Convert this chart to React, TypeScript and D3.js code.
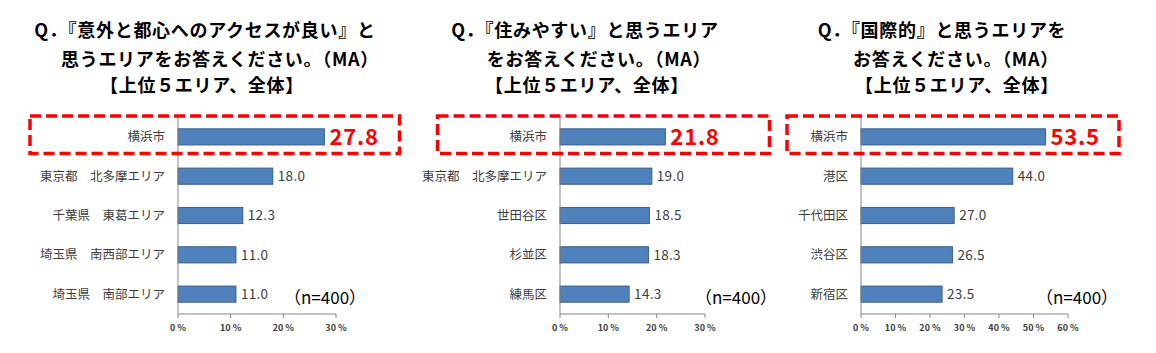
import * as d3 from "d3";
import React from "react";

// data for the three panels
const access_categories = ["横浜市", "東京都　北多摩エリア", "千葉県　東葛エリア", "埼玉県　南西部エリア", "埼玉県　南部エリア"];
const access_values = [27.8, 18.0, 12.3, 11.0, 11.0];

const livable_categories = ["横浜市", "東京都　北多摩エリア", "世田谷区", "杉並区", "練馬区"];
const livable_values = [21.8, 19.0, 18.5, 18.3, 14.3];

const intl_categories = ["横浜市", "港区", "千代田区", "渋谷区", "新宿区"];
const intl_values = [53.5, 44.0, 27.0, 26.5, 23.5];

const ticks30 = [0, 10, 20, 30];
const ticks60 = [0, 10, 20, 30, 40, 50, 60];

const access_title = ["Q．『意外と都心へのアクセスが良い』と", "思うエリアをお答えください。（MA）", "【上位５エリア、全体】"];
const livable_title = ["Q．『住みやすい』と思うエリア", "をお答えください。（MA）", "【上位５エリア、全体】"];
const intl_title = ["Q．『国際的』と思うエリアを", "お答えください。（MA）", "【上位５エリア、全体】"];

const sampleLabel = "（n=400）";

const FONT = "'Noto Sans CJK JP', 'Noto Sans', sans-serif";

interface PanelProps {
  categories: string[];
  values: number[];
  ticks: number[];
  title: string[];
  titleX: number[];
  x0: number;
  x1: number;
  box: [number, number, number, number];
  nX: number;
}

const Panel: React.FC<PanelProps> = ({ categories, values, ticks, title, titleX, x0, x1, box, nX }) => {
  const top = 117;
  const bottom = 314;

  const xScale = d3
    .scaleLinear()
    .domain([0, ticks[ticks.length - 1]])
    .range([x0, x1]);

  const yScale = d3
    .scaleBand()
    .domain(categories)
    .range([top, bottom])
    .paddingInner(0.59)
    .paddingOuter(0.3);

  const titleY = [37, 65.5, 92];

  return (
    <g>
      {title.map((t, i) => (
        <text
          key={i}
          x={titleX[i]}
          y={titleY[i]}
          textAnchor="middle"
          fontFamily={FONT}
          fontWeight="bold"
          fontSize={18}
          letterSpacing={0.7}
          fill="#000"
        >
          {t}
        </text>
      ))}

      {/* bars */}
      {categories.map((c, i) => (
        <rect
          key={c}
          x={xScale(0)}
          y={yScale(c)!}
          width={xScale(values[i]) - xScale(0)}
          height={yScale.bandwidth()}
          fill="#4F81BD"
          stroke="#3A5E8C"
          strokeWidth={1}
        />
      ))}

      {/* category labels */}
      {categories.map((c) => (
        <text
          key={"l" + c}
          x={x0 - 13}
          y={yScale(c)! + yScale.bandwidth() / 2}
          dy="0.35em"
          textAnchor="end"
          fontFamily={FONT}
          fontSize={12.5}
          fill="#404040"
        >
          {c}
        </text>
      ))}

      {/* value labels */}
      {categories.map((c, i) => (
        <text
          key={"v" + c}
          x={xScale(values[i]) + 5}
          y={yScale(c)! + yScale.bandwidth() / 2}
          dy="0.36em"
          fontFamily={FONT}
          fontSize={i === 0 ? 22 : 13.5}
          fontWeight={i === 0 ? "bold" : "normal"}
          letterSpacing={i === 0 ? 0.8 : 0.3}
          fill={i === 0 ? "#FF0000" : "#404040"}
        >
          {values[i].toFixed(1)}
        </text>
      ))}

      {/* axes */}
      <line x1={x0} x2={x0} y1={top} y2={bottom} stroke="#868686" strokeWidth={1} />
      <line x1={x0} x2={x1} y1={bottom} y2={bottom} stroke="#868686" strokeWidth={1} />
      {ticks.map((t) => (
        <g key={t}>
          <line x1={xScale(t)} x2={xScale(t)} y1={bottom} y2={bottom + 4} stroke="#868686" />
          <text
            x={xScale(t)}
            y={331}
            textAnchor="middle"
            fontFamily={FONT}
            fontSize={9}
            fontWeight="bold"
            fill="#404040"
          >
            {t} %
          </text>
        </g>
      ))}

      {/* highlight box */}
      <rect
        x={box[0]}
        y={box[1]}
        width={box[2] - box[0]}
        height={box[3] - box[1]}
        fill="none"
        stroke="#FF0000"
        strokeWidth={3.5}
        strokeDasharray="11 5"
      />

      <text x={nX} y={304} fontFamily={FONT} fontSize={17} fill="#000">
        {sampleLabel}
      </text>
    </g>
  );
};

export default function App() {
  return (
    <svg width={1156} height={353} style={{ position: "absolute", left: 0, top: 0, background: "#fff" }}>
      <rect width={1156} height={353} fill="#fff" />
      <Panel
        categories={access_categories}
        values={access_values}
        ticks={ticks30}
        title={access_title}
        titleX={[205, 220, 202]}
        x0={178}
        x1={336}
        box={[30, 116, 399.5, 153.5]}
        nX={284}
      />
      <Panel
        categories={livable_categories}
        values={livable_values}
        ticks={ticks30}
        title={livable_title}
        titleX={[585, 599, 587]}
        x0={560}
        x1={705}
        box={[437.5, 116, 769.5, 153.5]}
        nX={695}
      />
      <Panel
        categories={intl_categories}
        values={intl_values}
        ticks={ticks60}
        title={intl_title}
        titleX={[942, 956, 957]}
        x0={861}
        x1={1068}
        box={[787, 116, 1119, 153.5]}
        nX={1036}
      />
    </svg>
  );
}
